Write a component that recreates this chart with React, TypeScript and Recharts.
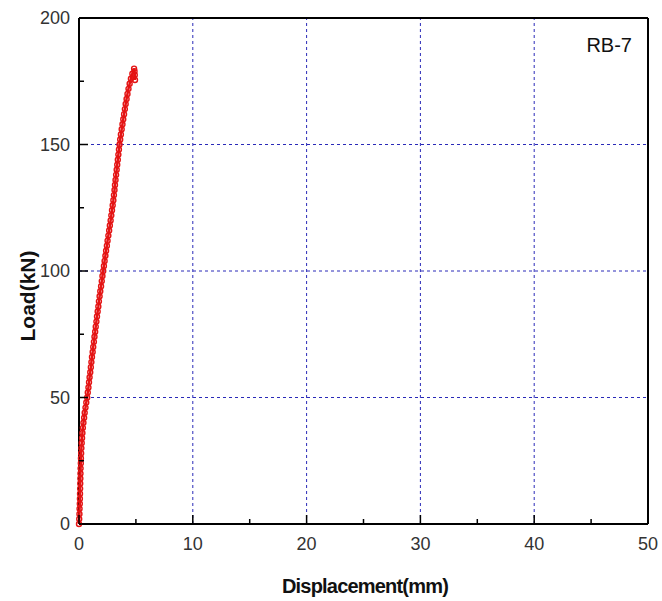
import { ScatterChart, Scatter, XAxis, YAxis, ReferenceLine } from 'recharts'

// displacement (mm) / load (kN)
const disp = [
	0, 0.02, 0.04, 0.05, 0.07, 0.08, 0.09, 0.1, 0.11, 0.12,
	0.13, 0.14, 0.16, 0.17, 0.19, 0.21, 0.24, 0.27, 0.3, 0.34,
	0.39, 0.45, 0.5, 0.57, 0.64, 0.72, 0.77, 0.83, 0.88, 0.93,
	0.99, 1.04, 1.09, 1.14, 1.2, 1.25, 1.31, 1.36, 1.42, 1.47,
	1.53, 1.58, 1.64, 1.7, 1.75, 1.81, 1.87, 1.94, 2.0, 2.06,
	2.13, 2.19, 2.25, 2.32, 2.38, 2.45, 2.51, 2.58, 2.65, 2.71,
	2.78, 2.84, 2.9, 2.96, 3.02, 3.07, 3.12, 3.16, 3.21, 3.26,
	3.31, 3.36, 3.41, 3.46, 3.51, 3.56, 3.62, 3.68, 3.75, 3.82,
	3.89, 3.96, 4.03, 4.1, 4.18, 4.26, 4.35, 4.45, 4.56, 4.69,
	4.84, 4.88, 4.9, 4.92,
]
const load = [
	0, 2, 4, 6, 8, 10, 12, 14, 16, 18,
	20, 22, 24, 26, 28, 30, 32, 34, 36, 38,
	40, 42, 44, 46, 48, 50, 52, 54, 56, 58,
	60, 62, 64, 66, 68, 70, 72, 74, 76, 78,
	80, 82, 84, 86, 88, 90, 92, 94, 96, 98,
	100, 102, 104, 106, 108, 110, 112, 114, 116, 118,
	120, 122, 124, 126, 128, 130, 132, 134, 136, 138,
	140, 142, 144, 146, 148, 150, 152, 154, 156, 158,
	160, 162, 164, 166, 168, 170, 172, 174, 176, 178,
	180, 179, 177.5, 175.5,
]

const xTicks = [0, 5, 10, 15, 20, 25, 30, 35, 40, 45, 50]
const yTicks = [0, 25, 50, 75, 100, 125, 150, 175, 200]
const xGrid = [10, 20, 30, 40]
const yGrid = [50, 100, 150]

const points = disp.map((d, i) => ({ x: d, y: load[i] }))

const FONT = '"Liberation Sans", Arial, sans-serif'
const RED = '#e41414'
const GRID = '#2a2ab8'

const isMajorX = (v: number) => v % 10 === 0
const isMajorY = (v: number) => v % 50 === 0

const BottomTick = ({ x, y, payload }: any) => {
	const major = isMajorX(payload.value)
	return (
		<g>
			<line x1={x} x2={x} y1={y} y2={y - (major ? 9 : 5)} stroke="#000" strokeWidth={1.5} />
			{major && (
				<text x={x} y={y + 26} textAnchor="middle" fontSize={18} fill="#333" fontFamily={FONT}>
					{payload.value}
				</text>
			)}
		</g>
	)
}

const TopTick = ({ x, y, payload }: any) => (
	<line x1={x} x2={x} y1={y} y2={y + (isMajorX(payload.value) ? 9 : 5)} stroke="#000" strokeWidth={1.5} />
)

const LeftTick = ({ x, y, payload }: any) => {
	const major = isMajorY(payload.value)
	return (
		<g>
			<line x1={x} x2={x + (major ? 9 : 5)} y1={y} y2={y} stroke="#000" strokeWidth={1.5} />
			{major && (
				<text x={x - 9} y={y} dy="0.35em" textAnchor="end" fontSize={18} fill="#333" fontFamily={FONT}>
					{payload.value}
				</text>
			)}
		</g>
	)
}

const RightTick = ({ x, y, payload }: any) => (
	<line x1={x} x2={x - (isMajorY(payload.value) ? 9 : 5)} y1={y} y2={y} stroke="#000" strokeWidth={1.5} />
)

const Ring = (props: any) => (
	<circle cx={props.cx} cy={props.cy} r={2.5} fill="none" stroke={RED} strokeWidth={1.4} />
)

export default function App() {
	return (
		<div style={{ position: 'relative', width: 662, height: 601 }}>
			<style>{'body { margin: 0; }'}</style>
			<ScatterChart width={662} height={601} margin={{ top: 8, right: 0, bottom: 47, left: 19 }}>
				<XAxis
					type="number"
					dataKey="x"
					domain={[0, 50]}
					ticks={xTicks}
					interval={0}
					tickSize={0}
					tickMargin={0}
					tick={<BottomTick />}
					axisLine={{ stroke: '#000', strokeWidth: 2 }}
					height={30}
				/>
				<XAxis
					xAxisId="top"
					orientation="top"
					type="number"
					domain={[0, 50]}
					ticks={xTicks}
					interval={0}
					tickSize={0}
					tickMargin={0}
					tick={<TopTick />}
					axisLine={{ stroke: '#000', strokeWidth: 2 }}
					height={10}
				/>
				<YAxis
					type="number"
					dataKey="y"
					domain={[0, 200]}
					ticks={yTicks}
					interval={0}
					tickSize={0}
					tickMargin={0}
					tick={<LeftTick />}
					axisLine={{ stroke: '#000', strokeWidth: 2 }}
					width={60}
				/>
				<YAxis
					yAxisId="right"
					orientation="right"
					type="number"
					domain={[0, 200]}
					ticks={yTicks}
					interval={0}
					tickSize={0}
					tickMargin={0}
					tick={<RightTick />}
					axisLine={{ stroke: '#000', strokeWidth: 2 }}
					width={14}
				/>
				{xGrid.map((v) => (
					<ReferenceLine key={`gx-${v}`} x={v} stroke={GRID} strokeDasharray="3 3" strokeWidth={1} />
				))}
				{yGrid.map((v) => (
					<ReferenceLine key={`gy-${v}`} y={v} stroke={GRID} strokeDasharray="3 3" strokeWidth={1} />
				))}
				<Scatter
					data={points}
					shape={Ring}
					line={{ stroke: RED, strokeWidth: 2.5 }}
					isAnimationActive={false}
				/>
			</ScatterChart>
			<svg width={662} height={601} style={{ position: 'absolute', left: 0, top: 0, pointerEvents: 'none' }}>
				<text x={632} y={52} textAnchor="end" fontSize={20} fill="#111" fontFamily={FONT}>
					RB-7
				</text>
				<text
					x={35}
					y={296}
					transform="rotate(-90 35 296)"
					textAnchor="middle"
					fontSize={21}
					fontWeight="bold"
					fill="#111"
					fontFamily={FONT}
				>
					Load(kN)
				</text>
				<text
					x={365}
					y={593}
					textAnchor="middle"
					fontSize={20}
					fontWeight="bold"
					letterSpacing={-0.8}
					fill="#111"
					fontFamily={FONT}
				>
					Displacement(mm)
				</text>
			</svg>
		</div>
	)
}
